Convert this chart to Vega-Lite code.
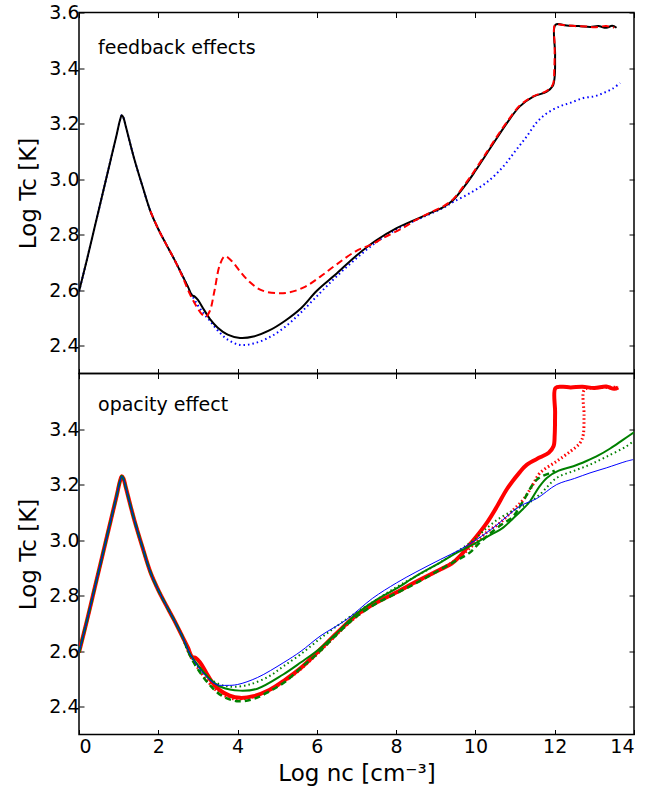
{
"$schema": "https://vega.github.io/schema/vega-lite/v6.json",
"padding": {"left": 17, "top": 2.5, "right": 12, "bottom": 5},
"bounds": "flush",
"spacing": 0,
"config": {
  "font": "DejaVu Sans",
  "view": {"stroke": "black", "strokeWidth": 1.5},
  "axis": {"labelFont": "DejaVu Sans", "titleFont": "DejaVu Sans", "labelFontSize": 19, "titleFontSize": 23, "titleFontWeight": "normal", "labelColor": "black", "titleColor": "black", "tickColor": "black", "domain": false, "grid": false, "tickSize": -5, "tickWidth": 1, "labelPadding": 8},
  "axisY": {"labelPadding": 5}
},
"datasets": {
"top": [
{"s":"b","x":0,"y":2.595},{"s":"b","x":0.2,"y":2.71},{"s":"b","x":0.4,"y":2.83},{"s":"b","x":0.6,"y":2.95},{"s":"b","x":0.8,"y":3.07},{"s":"b","x":0.95,"y":3.16},{"s":"b","x":1.03,"y":3.21},{"s":"b","x":1.08,"y":3.23},{"s":"b","x":1.12,"y":3.222},{"s":"b","x":1.18,"y":3.19},{"s":"b","x":1.27,"y":3.14},{"s":"b","x":1.4,"y":3.07},{"s":"b","x":1.6,"y":2.975},{"s":"b","x":1.8,"y":2.885},{"s":"b","x":2.0,"y":2.82},{"s":"b","x":2.2,"y":2.765},{"s":"b","x":2.4,"y":2.712},{"s":"b","x":2.6,"y":2.655},
{"s":"b","x":2.8,"y":2.595},{"s":"b","x":3.0,"y":2.545},{"s":"b","x":3.15,"y":2.515},{"s":"b","x":3.3,"y":2.49},{"s":"b","x":3.5,"y":2.455},{"s":"b","x":3.75,"y":2.422},{"s":"b","x":4.06,"y":2.403},{"s":"b","x":4.4,"y":2.408},{"s":"b","x":4.8,"y":2.43},{"s":"b","x":5.2,"y":2.468},{"s":"b","x":5.6,"y":2.52},{"s":"b","x":6.08,"y":2.59},{"s":"b","x":6.5,"y":2.65},{"s":"b","x":7.0,"y":2.715},{"s":"b","x":7.5,"y":2.773},{"s":"b","x":8.0,"y":2.818},{"s":"b","x":8.5,"y":2.852},{"s":"b","x":8.85,"y":2.874},{"s":"b","x":9.2,"y":2.898},{"s":"b","x":9.44,"y":2.918},{"s":"b","x":9.86,"y":2.949},{"s":"b","x":10.3,"y":2.99},{"s":"b","x":10.7,"y":3.045},{"s":"b","x":11.0,"y":3.1},{"s":"b","x":11.29,"y":3.153},{"s":"b","x":11.55,"y":3.205},{"s":"b","x":11.8,"y":3.237},{"s":"b","x":12.13,"y":3.262},{"s":"b","x":12.4,"y":3.275},{"s":"b","x":12.72,"y":3.292},{"s":"b","x":13.0,"y":3.298},{"s":"b","x":13.23,"y":3.31},{"s":"b","x":13.45,"y":3.325},{"s":"b","x":13.65,"y":3.346},
{"s":"k","x":0,"y":2.595},{"s":"k","x":0.2,"y":2.71},{"s":"k","x":0.4,"y":2.83},{"s":"k","x":0.6,"y":2.95},{"s":"k","x":0.8,"y":3.07},{"s":"k","x":0.95,"y":3.16},{"s":"k","x":1.03,"y":3.21},{"s":"k","x":1.08,"y":3.23},{"s":"k","x":1.12,"y":3.222},{"s":"k","x":1.18,"y":3.19},{"s":"k","x":1.27,"y":3.14},{"s":"k","x":1.4,"y":3.07},{"s":"k","x":1.6,"y":2.975},{"s":"k","x":1.8,"y":2.885},{"s":"k","x":2.0,"y":2.82},{"s":"k","x":2.2,"y":2.765},{"s":"k","x":2.4,"y":2.712},{"s":"k","x":2.6,"y":2.655},
{"s":"k","x":2.75,"y":2.612},{"s":"k","x":2.85,"y":2.582},{"s":"k","x":2.92,"y":2.577},{"s":"k","x":3.0,"y":2.565},{"s":"k","x":3.15,"y":2.53},{"s":"k","x":3.3,"y":2.497},{"s":"k","x":3.5,"y":2.465},{"s":"k","x":3.75,"y":2.44},{"s":"k","x":4.06,"y":2.428},{"s":"k","x":4.4,"y":2.433},{"s":"k","x":4.8,"y":2.455},{"s":"k","x":5.2,"y":2.49},{"s":"k","x":5.6,"y":2.535},{"s":"k","x":6.0,"y":2.598},{"s":"k","x":6.5,"y":2.66},{"s":"k","x":7.0,"y":2.725},{"s":"k","x":7.5,"y":2.78},{"s":"k","x":8.0,"y":2.823},{"s":"k","x":8.5,"y":2.855},{"s":"k","x":8.85,"y":2.877},{"s":"k","x":9.2,"y":2.9},{"s":"k","x":9.44,"y":2.925},{"s":"k","x":9.78,"y":2.985},{"s":"k","x":10.0,"y":3.03},{"s":"k","x":10.29,"y":3.093},{"s":"k","x":10.55,"y":3.15},{"s":"k","x":10.79,"y":3.201},{"s":"k","x":11.12,"y":3.262},{"s":"k","x":11.46,"y":3.297},{"s":"k","x":11.8,"y":3.315},{"s":"k","x":11.95,"y":3.335},{"s":"k","x":12.0,"y":3.37},{"s":"k","x":12.01,"y":3.45},{"s":"k","x":12.02,"y":3.556},{"s":"k","x":12.3,"y":3.553},{"s":"k","x":12.6,"y":3.551},{"s":"k","x":12.9,"y":3.548},{"s":"k","x":13.1,"y":3.551},{"s":"k","x":13.3,"y":3.545},{"s":"k","x":13.45,"y":3.552},{"s":"k","x":13.56,"y":3.545},
{"s":"r","x":1.8,"y":2.885},{"s":"r","x":2.0,"y":2.82},{"s":"r","x":2.2,"y":2.765},{"s":"r","x":2.4,"y":2.712},{"s":"r","x":2.6,"y":2.652},{"s":"r","x":2.8,"y":2.585},{"s":"r","x":2.95,"y":2.545},{"s":"r","x":3.1,"y":2.513},{"s":"r","x":3.2,"y":2.505},{"s":"r","x":3.3,"y":2.525},{"s":"r","x":3.42,"y":2.6},{"s":"r","x":3.55,"y":2.69},{"s":"r","x":3.68,"y":2.722},{"s":"r","x":3.85,"y":2.705},{"s":"r","x":4.05,"y":2.67},{"s":"r","x":4.3,"y":2.63},{"s":"r","x":4.6,"y":2.6},{"s":"r","x":4.99,"y":2.589},{"s":"r","x":5.3,"y":2.592},{"s":"r","x":5.7,"y":2.612},{"s":"r","x":6.08,"y":2.648},{"s":"r","x":6.5,"y":2.693},{"s":"r","x":7.0,"y":2.742},{"s":"r","x":7.34,"y":2.762},{"s":"r","x":7.7,"y":2.79},{"s":"r","x":8.18,"y":2.825},{"s":"r","x":8.5,"y":2.853},{"s":"r","x":8.85,"y":2.879},{"s":"r","x":9.2,"y":2.903},{"s":"r","x":9.44,"y":2.928},{"s":"r","x":9.78,"y":2.99},{"s":"r","x":10.0,"y":3.035},{"s":"r","x":10.29,"y":3.098},{"s":"r","x":10.55,"y":3.155},{"s":"r","x":10.79,"y":3.205},{"s":"r","x":11.12,"y":3.265},{"s":"r","x":11.46,"y":3.298},{"s":"r","x":11.8,"y":3.318},{"s":"r","x":11.95,"y":3.34},{"s":"r","x":11.99,"y":3.4},{"s":"r","x":12.0,"y":3.48},{"s":"r","x":12.01,"y":3.556},{"s":"r","x":12.2,"y":3.555},{"s":"r","x":12.5,"y":3.551},{"s":"r","x":12.8,"y":3.55},{"s":"r","x":13.0,"y":3.547},{"s":"r","x":13.3,"y":3.551},{"s":"r","x":13.5,"y":3.546}
],
"bot": [
{"s":"rt","x":0,"y":2.595},{"s":"rt","x":0.2,"y":2.71},{"s":"rt","x":0.4,"y":2.83},{"s":"rt","x":0.6,"y":2.95},{"s":"rt","x":0.8,"y":3.07},{"s":"rt","x":0.95,"y":3.16},{"s":"rt","x":1.03,"y":3.21},{"s":"rt","x":1.08,"y":3.23},{"s":"rt","x":1.12,"y":3.222},{"s":"rt","x":1.18,"y":3.19},{"s":"rt","x":1.27,"y":3.14},{"s":"rt","x":1.4,"y":3.07},{"s":"rt","x":1.6,"y":2.975},{"s":"rt","x":1.8,"y":2.885},{"s":"rt","x":2.0,"y":2.82},{"s":"rt","x":2.2,"y":2.765},{"s":"rt","x":2.4,"y":2.712},{"s":"rt","x":2.6,"y":2.655},
{"s":"rt","x":2.75,"y":2.612},{"s":"rt","x":2.85,"y":2.58},{"s":"rt","x":2.95,"y":2.575},{"s":"rt","x":3.05,"y":2.56},{"s":"rt","x":3.2,"y":2.525},{"s":"rt","x":3.35,"y":2.49},{"s":"rt","x":3.55,"y":2.46},{"s":"rt","x":3.8,"y":2.44},{"s":"rt","x":4.06,"y":2.432},{"s":"rt","x":4.4,"y":2.438},{"s":"rt","x":4.8,"y":2.46},{"s":"rt","x":5.2,"y":2.497},{"s":"rt","x":5.6,"y":2.54},{"s":"rt","x":6.08,"y":2.606},{"s":"rt","x":6.5,"y":2.665},{"s":"rt","x":7.0,"y":2.73},{"s":"rt","x":7.5,"y":2.775},{"s":"rt","x":8.01,"y":2.812},{"s":"rt","x":8.5,"y":2.85},{"s":"rt","x":9.11,"y":2.894},{"s":"rt","x":9.4,"y":2.915},{"s":"rt","x":9.61,"y":2.942},{"s":"rt","x":9.8,"y":2.975},{"s":"rt","x":10.03,"y":3.014},{"s":"rt","x":10.3,"y":3.065},{"s":"rt","x":10.54,"y":3.12},{"s":"rt","x":10.8,"y":3.185},{"s":"rt","x":11.12,"y":3.245},{"s":"rt","x":11.3,"y":3.272},{"s":"rt","x":11.63,"y":3.298},{"s":"rt","x":11.85,"y":3.315},{"s":"rt","x":11.97,"y":3.338},{"s":"rt","x":12.0,"y":3.38},{"s":"rt","x":12.01,"y":3.46},{"s":"rt","x":12.02,"y":3.548},{"s":"rt","x":12.2,"y":3.552},{"s":"rt","x":12.4,"y":3.55},{"s":"rt","x":12.7,"y":3.552},{"s":"rt","x":13.0,"y":3.548},{"s":"rt","x":13.3,"y":3.553},{"s":"rt","x":13.5,"y":3.545},{"s":"rt","x":13.6,"y":3.55},
{"s":"rd","x":0,"y":2.595},{"s":"rd","x":0.2,"y":2.71},{"s":"rd","x":0.4,"y":2.83},{"s":"rd","x":0.6,"y":2.95},{"s":"rd","x":0.8,"y":3.07},{"s":"rd","x":0.95,"y":3.16},{"s":"rd","x":1.03,"y":3.21},{"s":"rd","x":1.08,"y":3.23},{"s":"rd","x":1.12,"y":3.222},{"s":"rd","x":1.18,"y":3.19},{"s":"rd","x":1.27,"y":3.14},{"s":"rd","x":1.4,"y":3.07},{"s":"rd","x":1.6,"y":2.975},{"s":"rd","x":1.8,"y":2.885},{"s":"rd","x":2.0,"y":2.82},{"s":"rd","x":2.2,"y":2.765},{"s":"rd","x":2.4,"y":2.712},{"s":"rd","x":2.6,"y":2.655},
{"s":"rd","x":2.8,"y":2.585},{"s":"rd","x":3.0,"y":2.54},{"s":"rd","x":3.2,"y":2.5},{"s":"rd","x":3.5,"y":2.455},{"s":"rd","x":3.8,"y":2.432},{"s":"rd","x":4.06,"y":2.428},{"s":"rd","x":4.5,"y":2.44},{"s":"rd","x":5.0,"y":2.475},{"s":"rd","x":5.5,"y":2.525},{"s":"rd","x":6.08,"y":2.6},{"s":"rd","x":6.5,"y":2.66},{"s":"rd","x":7.0,"y":2.725},{"s":"rd","x":7.5,"y":2.775},{"s":"rd","x":8.0,"y":2.81},{"s":"rd","x":8.5,"y":2.848},{"s":"rd","x":9.0,"y":2.885},{"s":"rd","x":9.5,"y":2.928},{"s":"rd","x":10.0,"y":2.99},{"s":"rd","x":10.3,"y":3.03},{"s":"rd","x":10.62,"y":3.062},{"s":"rd","x":11.0,"y":3.115},{"s":"rd","x":11.21,"y":3.146},{"s":"rd","x":11.45,"y":3.2},{"s":"rd","x":11.63,"y":3.242},{"s":"rd","x":12.05,"y":3.284},{"s":"rd","x":12.4,"y":3.32},{"s":"rd","x":12.64,"y":3.35},{"s":"rd","x":12.72,"y":3.38},{"s":"rd","x":12.74,"y":3.45},{"s":"rd","x":12.75,"y":3.542},{"s":"rd","x":13.0,"y":3.548},{"s":"rd","x":13.3,"y":3.55},{"s":"rd","x":13.6,"y":3.55},
{"s":"gd","x":0,"y":2.595},{"s":"gd","x":0.2,"y":2.71},{"s":"gd","x":0.4,"y":2.83},{"s":"gd","x":0.6,"y":2.95},{"s":"gd","x":0.8,"y":3.07},{"s":"gd","x":0.95,"y":3.16},{"s":"gd","x":1.03,"y":3.21},{"s":"gd","x":1.08,"y":3.23},{"s":"gd","x":1.12,"y":3.222},{"s":"gd","x":1.18,"y":3.19},{"s":"gd","x":1.27,"y":3.14},{"s":"gd","x":1.4,"y":3.07},{"s":"gd","x":1.6,"y":2.975},{"s":"gd","x":1.8,"y":2.885},{"s":"gd","x":2.0,"y":2.82},{"s":"gd","x":2.2,"y":2.765},{"s":"gd","x":2.4,"y":2.712},{"s":"gd","x":2.6,"y":2.655},
{"s":"gd","x":2.8,"y":2.585},{"s":"gd","x":3.0,"y":2.535},{"s":"gd","x":3.3,"y":2.478},{"s":"gd","x":3.6,"y":2.44},{"s":"gd","x":3.98,"y":2.42},{"s":"gd","x":4.4,"y":2.428},{"s":"gd","x":4.8,"y":2.455},{"s":"gd","x":5.2,"y":2.49},{"s":"gd","x":5.6,"y":2.54},{"s":"gd","x":6.08,"y":2.6},{"s":"gd","x":6.5,"y":2.66},{"s":"gd","x":7.0,"y":2.725},{"s":"gd","x":7.5,"y":2.772},{"s":"gd","x":8.0,"y":2.808},{"s":"gd","x":8.5,"y":2.845},{"s":"gd","x":9.0,"y":2.885},{"s":"gd","x":9.5,"y":2.925},{"s":"gd","x":9.86,"y":2.955},{"s":"gd","x":10.1,"y":2.99},{"s":"gd","x":10.3,"y":3.015},{"s":"gd","x":10.6,"y":3.05},{"s":"gd","x":10.95,"y":3.085},{"s":"gd","x":11.2,"y":3.14},{"s":"gd","x":11.55,"y":3.218},{"s":"gd","x":11.88,"y":3.242},{"s":"gd","x":12.0,"y":3.25},
{"s":"gt","x":0,"y":2.595},{"s":"gt","x":0.2,"y":2.71},{"s":"gt","x":0.4,"y":2.83},{"s":"gt","x":0.6,"y":2.95},{"s":"gt","x":0.8,"y":3.07},{"s":"gt","x":0.95,"y":3.16},{"s":"gt","x":1.03,"y":3.21},{"s":"gt","x":1.08,"y":3.23},{"s":"gt","x":1.12,"y":3.222},{"s":"gt","x":1.18,"y":3.19},{"s":"gt","x":1.27,"y":3.14},{"s":"gt","x":1.4,"y":3.07},{"s":"gt","x":1.6,"y":2.975},{"s":"gt","x":1.8,"y":2.885},{"s":"gt","x":2.0,"y":2.82},{"s":"gt","x":2.2,"y":2.765},{"s":"gt","x":2.4,"y":2.712},{"s":"gt","x":2.6,"y":2.655},
{"s":"gt","x":2.8,"y":2.585},{"s":"gt","x":3.0,"y":2.545},{"s":"gt","x":3.3,"y":2.5},{"s":"gt","x":3.6,"y":2.478},{"s":"gt","x":3.9,"y":2.472},{"s":"gt","x":4.3,"y":2.48},{"s":"gt","x":4.8,"y":2.51},{"s":"gt","x":5.15,"y":2.545},{"s":"gt","x":5.6,"y":2.59},{"s":"gt","x":6.08,"y":2.645},{"s":"gt","x":6.5,"y":2.69},{"s":"gt","x":7.0,"y":2.74},{"s":"gt","x":7.5,"y":2.785},{"s":"gt","x":8.0,"y":2.83},{"s":"gt","x":8.5,"y":2.87},{"s":"gt","x":9.0,"y":2.91},{"s":"gt","x":9.5,"y":2.955},{"s":"gt","x":9.95,"y":3.0},{"s":"gt","x":10.3,"y":3.045},{"s":"gt","x":10.62,"y":3.08},{"s":"gt","x":11.0,"y":3.11},{"s":"gt","x":11.3,"y":3.13},{"s":"gt","x":11.63,"y":3.165},{"s":"gt","x":12.05,"y":3.224},{"s":"gt","x":12.5,"y":3.25},{"s":"gt","x":12.89,"y":3.272},{"s":"gt","x":13.3,"y":3.3},{"s":"gt","x":13.81,"y":3.338},{"s":"gt","x":13.98,"y":3.356},
{"s":"gs","x":0,"y":2.595},{"s":"gs","x":0.2,"y":2.71},{"s":"gs","x":0.4,"y":2.83},{"s":"gs","x":0.6,"y":2.95},{"s":"gs","x":0.8,"y":3.07},{"s":"gs","x":0.95,"y":3.16},{"s":"gs","x":1.03,"y":3.21},{"s":"gs","x":1.08,"y":3.23},{"s":"gs","x":1.12,"y":3.222},{"s":"gs","x":1.18,"y":3.19},{"s":"gs","x":1.27,"y":3.14},{"s":"gs","x":1.4,"y":3.07},{"s":"gs","x":1.6,"y":2.975},{"s":"gs","x":1.8,"y":2.885},{"s":"gs","x":2.0,"y":2.82},{"s":"gs","x":2.2,"y":2.765},{"s":"gs","x":2.4,"y":2.712},{"s":"gs","x":2.6,"y":2.655},
{"s":"gs","x":2.8,"y":2.59},{"s":"gs","x":3.0,"y":2.55},{"s":"gs","x":3.3,"y":2.5},{"s":"gs","x":3.6,"y":2.47},{"s":"gs","x":4.06,"y":2.458},{"s":"gs","x":4.5,"y":2.465},{"s":"gs","x":5.15,"y":2.516},{"s":"gs","x":5.6,"y":2.56},{"s":"gs","x":6.08,"y":2.61},{"s":"gs","x":6.5,"y":2.665},{"s":"gs","x":7.0,"y":2.735},{"s":"gs","x":7.5,"y":2.785},{"s":"gs","x":8.0,"y":2.825},{"s":"gs","x":8.5,"y":2.87},{"s":"gs","x":9.11,"y":2.919},{"s":"gs","x":9.5,"y":2.952},{"s":"gs","x":9.86,"y":2.978},{"s":"gs","x":10.2,"y":3.005},{"s":"gs","x":10.45,"y":3.024},{"s":"gs","x":10.7,"y":3.045},{"s":"gs","x":10.95,"y":3.078},{"s":"gs","x":11.2,"y":3.112},{"s":"gs","x":11.38,"y":3.14},{"s":"gs","x":11.6,"y":3.19},{"s":"gs","x":11.8,"y":3.224},{"s":"gs","x":12.1,"y":3.25},{"s":"gs","x":12.47,"y":3.266},{"s":"gs","x":12.8,"y":3.285},{"s":"gs","x":13.1,"y":3.305},{"s":"gs","x":13.4,"y":3.33},{"s":"gs","x":13.73,"y":3.362},{"s":"gs","x":14.0,"y":3.388},
{"s":"b","x":0,"y":2.595},{"s":"b","x":0.2,"y":2.71},{"s":"b","x":0.4,"y":2.83},{"s":"b","x":0.6,"y":2.95},{"s":"b","x":0.8,"y":3.07},{"s":"b","x":0.95,"y":3.16},{"s":"b","x":1.03,"y":3.21},{"s":"b","x":1.08,"y":3.23},{"s":"b","x":1.12,"y":3.222},{"s":"b","x":1.18,"y":3.19},{"s":"b","x":1.27,"y":3.14},{"s":"b","x":1.4,"y":3.07},{"s":"b","x":1.6,"y":2.975},{"s":"b","x":1.8,"y":2.885},{"s":"b","x":2.0,"y":2.82},{"s":"b","x":2.2,"y":2.765},{"s":"b","x":2.4,"y":2.712},{"s":"b","x":2.6,"y":2.655},
{"s":"b","x":2.8,"y":2.59},{"s":"b","x":3.0,"y":2.545},{"s":"b","x":3.2,"y":2.51},{"s":"b","x":3.47,"y":2.48},{"s":"b","x":3.73,"y":2.477},{"s":"b","x":4.0,"y":2.48},{"s":"b","x":4.5,"y":2.505},{"s":"b","x":5.15,"y":2.558},{"s":"b","x":5.6,"y":2.6},{"s":"b","x":6.08,"y":2.654},{"s":"b","x":6.75,"y":2.714},{"s":"b","x":7.4,"y":2.79},{"s":"b","x":8.01,"y":2.846},{"s":"b","x":8.5,"y":2.885},{"s":"b","x":9.11,"y":2.93},{"s":"b","x":9.6,"y":2.965},{"s":"b","x":10.03,"y":3.002},{"s":"b","x":10.5,"y":3.05},{"s":"b","x":11.12,"y":3.122},{"s":"b","x":11.55,"y":3.15},{"s":"b","x":12.05,"y":3.2},{"s":"b","x":12.5,"y":3.222},{"s":"b","x":12.89,"y":3.242},{"s":"b","x":13.3,"y":3.26},{"s":"b","x":13.81,"y":3.284},{"s":"b","x":13.98,"y":3.29}
]
},
"vconcat": [
{
  "width": 555, "height": 361,
  "resolve": {"axis": {"x": "independent", "y": "independent"}},
  "layer": [
    {"data": {"name": "top"}, "transform": [{"filter": "datum.s === 'b'"}],
     "mark": {"type": "line", "color": "#0000ff", "strokeWidth": 2, "strokeDash": [1.5, 3], "interpolate": "catmull-rom", "clip": true},
     "encoding": {
       "x": {"field": "x", "type": "quantitative", "scale": {"domain": [0, 14], "nice": false, "zero": false}, "axis": {"orient": "bottom", "values": [0,2,4,6,8,10,12,14], "labels": false, "title": null}},
       "y": {"field": "y", "type": "quantitative", "scale": {"domain": [2.3, 3.6], "nice": false, "zero": false}, "axis": {"orient": "left", "values": [2.4,2.6,2.8,3.0,3.2,3.4,3.6], "format": ".1f", "title": "Log Tc [K]", "titlePadding": 8}}
     }},
    {"data": {"name": "top"}, "transform": [{"filter": "datum.s === 'k'"}],
     "mark": {"type": "line", "color": "#000000", "strokeWidth": 2, "interpolate": "catmull-rom", "clip": true},
     "encoding": {
       "x": {"field": "x", "type": "quantitative", "axis": {"orient": "top", "values": [0,2,4,6,8,10,12,14], "labels": false, "title": null}},
       "y": {"field": "y", "type": "quantitative", "axis": {"orient": "right", "values": [2.4,2.6,2.8,3.0,3.2,3.4,3.6], "labels": false, "title": null}}
     }},
    {"data": {"name": "top"}, "transform": [{"filter": "datum.s === 'r'"}],
     "mark": {"type": "line", "color": "#ff0000", "strokeWidth": 2, "strokeDash": [7, 4], "interpolate": "catmull-rom", "clip": true},
     "encoding": {
       "x": {"field": "x", "type": "quantitative", "axis": null},
       "y": {"field": "y", "type": "quantitative", "axis": null}
     }},
    {"data": {"values": [{"x": 0.48, "y": 3.45, "t": "feedback effects"}]},
     "mark": {"type": "text", "align": "left", "baseline": "alphabetic", "fontSize": 19, "font": "DejaVu Sans", "color": "black"},
     "encoding": {
       "x": {"field": "x", "type": "quantitative", "axis": null},
       "y": {"field": "y", "type": "quantitative", "axis": null},
       "text": {"field": "t"}
     }}
  ]
},
{
  "width": 555, "height": 361,
  "resolve": {"axis": {"x": "independent", "y": "independent"}},
  "layer": [
    {"data": {"name": "bot"}, "transform": [{"filter": "datum.s === 'rt'"}],
     "mark": {"type": "line", "color": "#ff0000", "strokeWidth": 4, "interpolate": "catmull-rom", "clip": true},
     "encoding": {
       "x": {"field": "x", "type": "quantitative", "scale": {"domain": [0, 14], "nice": false, "zero": false}, "axis": {"orient": "bottom", "values": [0,2,4,6,8,10,12,14], "format": "d", "title": "Log nc [cm⁻³]", "titlePadding": 6}},
       "y": {"field": "y", "type": "quantitative", "scale": {"domain": [2.3, 3.6], "nice": false, "zero": false}, "axis": {"orient": "left", "values": [2.4,2.6,2.8,3.0,3.2,3.4], "format": ".1f", "title": "Log Tc [K]", "titlePadding": 8}}
     }},
    {"data": {"name": "bot"}, "transform": [{"filter": "datum.s === 'rd'"}],
     "mark": {"type": "line", "color": "#ff0000", "strokeWidth": 3, "strokeDash": [1.5, 2.5], "interpolate": "catmull-rom", "clip": true},
     "encoding": {
       "x": {"field": "x", "type": "quantitative", "axis": {"orient": "top", "values": [0,2,4,6,8,10,12,14], "labels": false, "title": null}},
       "y": {"field": "y", "type": "quantitative", "axis": {"orient": "right", "values": [2.4,2.6,2.8,3.0,3.2,3.4], "labels": false, "title": null}}
     }},
    {"data": {"name": "bot"}, "transform": [{"filter": "datum.s === 'gd'"}],
     "mark": {"type": "line", "color": "#008000", "strokeWidth": 2.5, "strokeDash": [6, 4], "interpolate": "catmull-rom", "clip": true},
     "encoding": {"x": {"field": "x", "type": "quantitative", "axis": null}, "y": {"field": "y", "type": "quantitative", "axis": null}}},
    {"data": {"name": "bot"}, "transform": [{"filter": "datum.s === 'gt'"}],
     "mark": {"type": "line", "color": "#008000", "strokeWidth": 2, "strokeDash": [1.5, 3], "interpolate": "catmull-rom", "clip": true},
     "encoding": {"x": {"field": "x", "type": "quantitative", "axis": null}, "y": {"field": "y", "type": "quantitative", "axis": null}}},
    {"data": {"name": "bot"}, "transform": [{"filter": "datum.s === 'gs'"}],
     "mark": {"type": "line", "color": "#008000", "strokeWidth": 2, "interpolate": "catmull-rom", "clip": true},
     "encoding": {"x": {"field": "x", "type": "quantitative", "axis": null}, "y": {"field": "y", "type": "quantitative", "axis": null}}},
    {"data": {"name": "bot"}, "transform": [{"filter": "datum.s === 'b'"}],
     "mark": {"type": "line", "color": "#0000ff", "strokeWidth": 1, "interpolate": "catmull-rom", "clip": true},
     "encoding": {"x": {"field": "x", "type": "quantitative", "axis": null}, "y": {"field": "y", "type": "quantitative", "axis": null}}},
    {"data": {"values": [{"x": 0.48, "y": 3.464, "t": "opacity effect"}]},
     "mark": {"type": "text", "align": "left", "baseline": "alphabetic", "fontSize": 19, "font": "DejaVu Sans", "color": "black"},
     "encoding": {
       "x": {"field": "x", "type": "quantitative", "axis": null},
       "y": {"field": "y", "type": "quantitative", "axis": null},
       "text": {"field": "t"}
     }}
  ]
}
]
}
